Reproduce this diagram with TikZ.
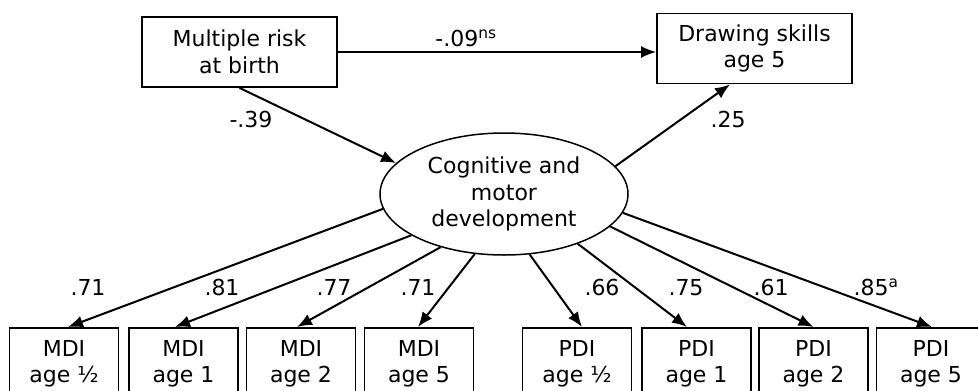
\documentclass[tikz,border=0pt]{standalone}
\usepackage{fontspec}
\setmainfont{DejaVu Sans}
\usetikzlibrary{arrows.meta,shapes.geometric}
\begin{document}
\begin{tikzpicture}[
  x=1pt, y=-1pt,
  every node/.style = {font=\fontsize{22}{26.5}\selectfont, align=center},
  box/.style = {draw, line width=1.8pt, minimum width=195pt,
    minimum height=70pt, inner sep=0pt},
  ind/.style = {draw, line width=1.8pt, minimum width=109pt,
    minimum height=72pt, inner sep=0pt, anchor=north},
  lat/.style = {draw, ellipse, line width=1.5pt, minimum width=248pt,
    minimum height=122pt, inner sep=0pt},
  coef/.style = {anchor=base, inner sep=0pt},
  arr/.style = {-{Latex[length=15pt,width=12pt]}, line width=2pt}]
  \useasboundingbox (0,0) rectangle (978,391);
  \clip (0,0) rectangle (978,391);
  % top row
  \node[box] (risk) at (239.5,52) {Multiple risk\\at birth};
  \node[box] (draw) at (754.5,48.5) {Drawing skills\\age 5};
  \node[lat] (cog) at (504,194) {Cognitive and\\motor\\development};
  % indicators
  \node[ind] (m1) at (64,327) {MDI\\age ½};
  \node[ind] (m2) at (183.5,327) {MDI\\age 1};
  \node[ind] (m3) at (301,327) {MDI\\age 2};
  \node[ind] (m4) at (419,327) {MDI\\age 5};
  \node[ind] (p1) at (577,327) {PDI\\age ½};
  \node[ind] (p2) at (696.5,327) {PDI\\age 1};
  \node[ind] (p3) at (813.5,327) {PDI\\age 2};
  \node[ind] (p4) at (931,327) {PDI\\age 5};
  % paths
  \draw[arr] (risk.east) -- (risk.east -| draw.west);
  \draw[arr] (risk.south) -- (cog.164);
  \draw[arr] (cog.14) -- ([xshift=-24.5pt]draw.south);
  \draw[arr] (cog.187.5) -- ([xshift=4pt]m1.north);
  \draw[arr] (cog.204.6) -- ([xshift=-8.5pt]m2.north);
  \draw[arr] (cog.220) -- ([xshift=-4pt]m3.north);
  \draw[arr] (cog.244.6) -- ([xshift=-1pt]m4.north);
  \draw[arr] (cog.293) -- ([xshift=5pt]p1.north);
  \draw[arr] (cog.326.7) -- ([xshift=-9.5pt]p2.north);
  \draw[arr] (cog.343) -- (p3.north);
  \draw[arr] (cog.351) -- ([xshift=1pt]p4.north);
  % coefficients
  \node[coef] (c0) at (466,46) {-.09\textsuperscript{ns}};
  \node[coef] (c1) at (251,127) {-.39};
  \node[coef] (c2) at (728,127) {.25};
  \node[coef] (c3) at (88,295) {.71};
  \node[coef] (c4) at (222,295) {.81};
  \node[coef] (c5) at (334,295) {.77};
  \node[coef] (c6) at (418,295) {.71};
  \node[coef] (c7) at (602,295) {.66};
  \node[coef] (c8) at (686,295) {.75};
  \node[coef] (c9) at (771,295) {.61};
  \node[coef] (c10) at (876,295) {.85\textsuperscript{a}};
\end{tikzpicture}
\end{document}
